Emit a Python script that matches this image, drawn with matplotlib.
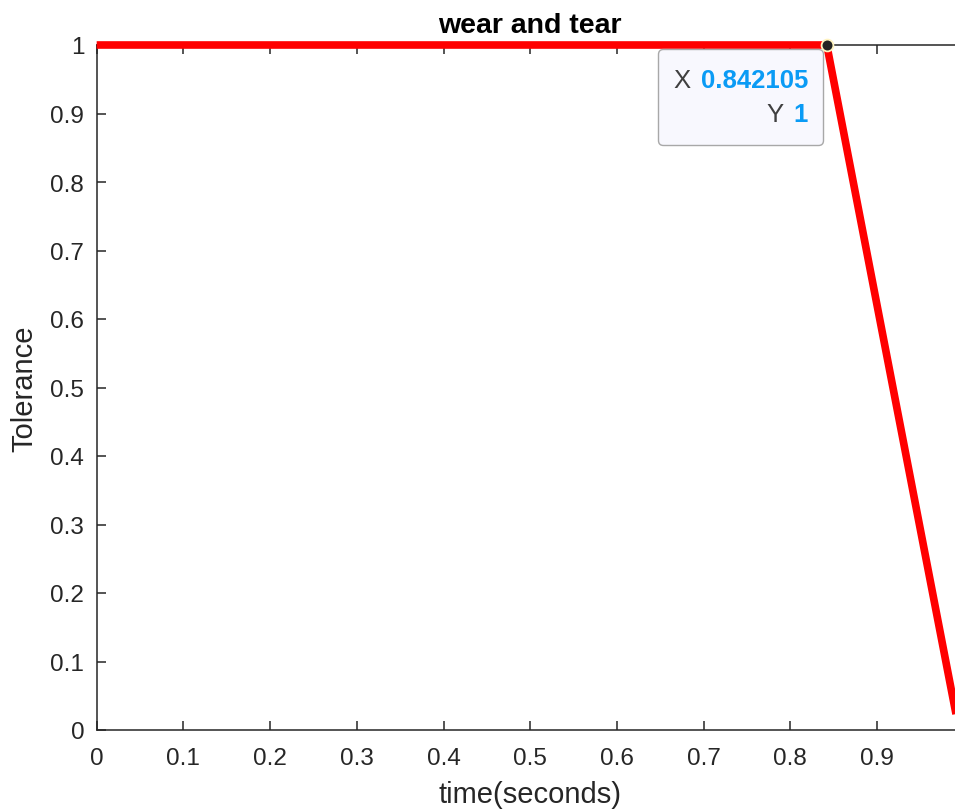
import matplotlib

matplotlib.use("Agg")
import matplotlib.pyplot as plt
from matplotlib.offsetbox import AnnotationBbox, DrawingArea, HPacker, TextArea, VPacker

# data: 20 samples between 0 and 1 s, tolerance drops after the 17th sample
time_s = [0.0, 0.052632, 0.105263, 0.157895, 0.210526, 0.263158, 0.315789,
          0.368421, 0.421053, 0.473684, 0.526316, 0.578947, 0.631579,
          0.684211, 0.736842, 0.789474, 0.842105, 0.894737, 0.947368, 1.0]
tolerance = [1, 1, 1, 1, 1, 1, 1, 1, 1, 1, 1, 1, 1, 1, 1, 1, 1,
             0.655, 0.31, -0.035]
tip_x = 0.842105
tip_y = 1
x_ticks = [0, 0.1, 0.2, 0.3, 0.4, 0.5, 0.6, 0.7, 0.8, 0.9]
x_tick_labels = ["0", "0.1", "0.2", "0.3", "0.4", "0.5", "0.6", "0.7", "0.8", "0.9"]
y_ticks = [0, 0.1, 0.2, 0.3, 0.4, 0.5, 0.6, 0.7, 0.8, 0.9, 1]
y_tick_labels = ["0", "0.1", "0.2", "0.3", "0.4", "0.5", "0.6", "0.7", "0.8", "0.9", "1"]

DARK = "#262626"
TIP_BLUE = "#0a9bf5"

plt.rcParams["font.family"] = ["Liberation Sans", "DejaVu Sans"]

fig = plt.figure(figsize=(9.55, 8.12), dpi=100)
ax = fig.add_axes([96.7 / 955, 81 / 812, 867 / 955, 685 / 812])

ax.plot(time_s, tolerance, color="red", linewidth=5.5, clip_on=False,
        solid_capstyle="butt", solid_joinstyle="miter", zorder=3)

ax.set_xlim(0, 1)
ax.set_ylim(0, 1)
ax.set_xticks(x_ticks)
ax.set_xticklabels(x_tick_labels)
ax.set_yticks(y_ticks)
ax.set_yticklabels(y_tick_labels)
ax.tick_params(direction="in", length=6.5, width=1.1, colors=DARK,
               labelsize=17.5, top=True, right=True)
ax.tick_params(axis="x", pad=12)
ax.tick_params(axis="y", pad=9)
for side in ax.spines.values():
    side.set_color(DARK)
    side.set_linewidth(1.1)

ax.set_title("wear and tear", fontsize=20.5, fontweight="bold", pad=9.5)
ax.set_xlabel("time(seconds)", fontsize=21, color=DARK, labelpad=8)
ax.set_ylabel("Tolerance", fontsize=21, color=DARK, labelpad=8.5)

# datatip
ax.plot([tip_x], [tip_y], "o", markersize=8.5, markerfacecolor="#222222",
        markeredgecolor="#fff3c0", markeredgewidth=1.3, clip_on=False, zorder=5)

label_style = dict(fontsize=18.5, color="#404040")
value_style = dict(fontsize=18.5, color=TIP_BLUE, fontweight="bold")
row_x = HPacker(children=[TextArea("X", textprops=label_style),
                          TextArea(f"{tip_x:g}", textprops=value_style)],
                pad=0, sep=7.5)
row_y = HPacker(children=[TextArea("Y", textprops=label_style),
                          TextArea(f"{tip_y:g}", textprops=value_style)],
                pad=0, sep=7.5)
rows = VPacker(children=[row_x, row_y], align="right", pad=0, sep=7.2)
# extra vertical room inside the tip box
tip_box = VPacker(children=[DrawingArea(0, 2.9), rows, DrawingArea(0, 2.9)],
                  align="right", pad=0, sep=0)
tip = AnnotationBbox(tip_box, (tip_x, tip_y), xybox=(-13.5, -13.7),
                     xycoords="data", boxcoords="offset points",
                     box_alignment=(1, 1), pad=1.08, zorder=4,
                     bboxprops=dict(boxstyle="round,pad=1.08,rounding_size=0.35",
                                    facecolor="#f8f8fe", edgecolor="#a8a8a8",
                                    linewidth=1.0))
tip.set_clip_on(False)
ax.add_artist(tip)

fig.savefig("out.png", dpi=100)
